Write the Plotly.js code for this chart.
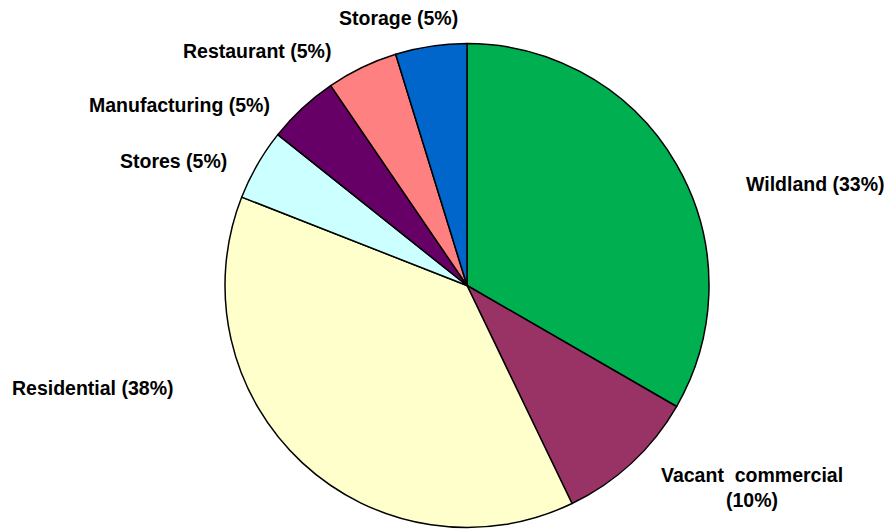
<!DOCTYPE html>
<html>
<head>
<meta charset="utf-8">
<script src="https://cdn.plot.ly/plotly-3.0.1.min.js"></script>
<style>html,body{margin:0;padding:0;background:#fff;}#chart{width:889px;height:529px;}</style>
</head>
<body>
<div id="chart"></div>
<script>
// Data (clockwise from 12 o'clock)
const categories = ['Wildland', 'Vacant\u00a0 commercial', 'Residential', 'Stores', 'Manufacturing', 'Restaurant', 'Storage'];
const values = [7, 2, 8, 1, 1, 1, 1];
const colors = ['#00B050', '#993366', '#FFFFCC', '#CCFFFF', '#660066', '#FF8080', '#0066CC'];
const labelSeparators = [' ', '<br>', ' ', ' ', ' ', ' ', ' '];

// label placement (paper px) — layout only
const labelPos = [
  {x: 744, y: 184, anchor: 'left'},
  {x: 752, y: 487, anchor: 'center'},
  {x: 10, y: 388, anchor: 'left'},
  {x: 118, y: 161, anchor: 'left'},
  {x: 87, y: 105, anchor: 'left'},
  {x: 333, y: 51, anchor: 'right'},
  {x: 460, y: 18, anchor: 'right'}
];

const W = 889, H = 529;
const total = values.reduce((a, b) => a + b, 0);
const pct = values.map(v => Math.round(v / total * 100));

const font = {family: '"Liberation Sans", Arial, sans-serif', size: 19.5, color: '#000', weight: 'bold'};

const annotations = categories.map((c, i) => ({
  text: c + labelSeparators[i] + '(' + pct[i] + '%)',
  xref: 'paper', yref: 'paper',
  x: labelPos[i].x / W, y: 1 - labelPos[i].y / H,
  xanchor: labelPos[i].anchor, yanchor: 'middle',
  align: 'center',
  showarrow: false,
  font: font
}));

const cx = 467, cy = 285.5, r = 242;
const trace = {
  type: 'pie',
  labels: categories,
  values: values,
  sort: false,
  direction: 'clockwise',
  rotation: 0,
  textinfo: 'none',
  hoverinfo: 'label+percent',
  marker: {colors: colors, line: {color: '#000', width: 1.5}},
  domain: {x: [(cx - r) / W, (cx + r) / W], y: [(H - cy - r) / H, (H - cy + r) / H]}
};

Plotly.newPlot('chart', [trace], {
  width: W, height: H,
  margin: {l: 0, r: 0, t: 0, b: 0},
  showlegend: false,
  paper_bgcolor: '#fff',
  annotations: annotations
}, {displayModeBar: false, staticPlot: true});
</script>
</body>
</html>
